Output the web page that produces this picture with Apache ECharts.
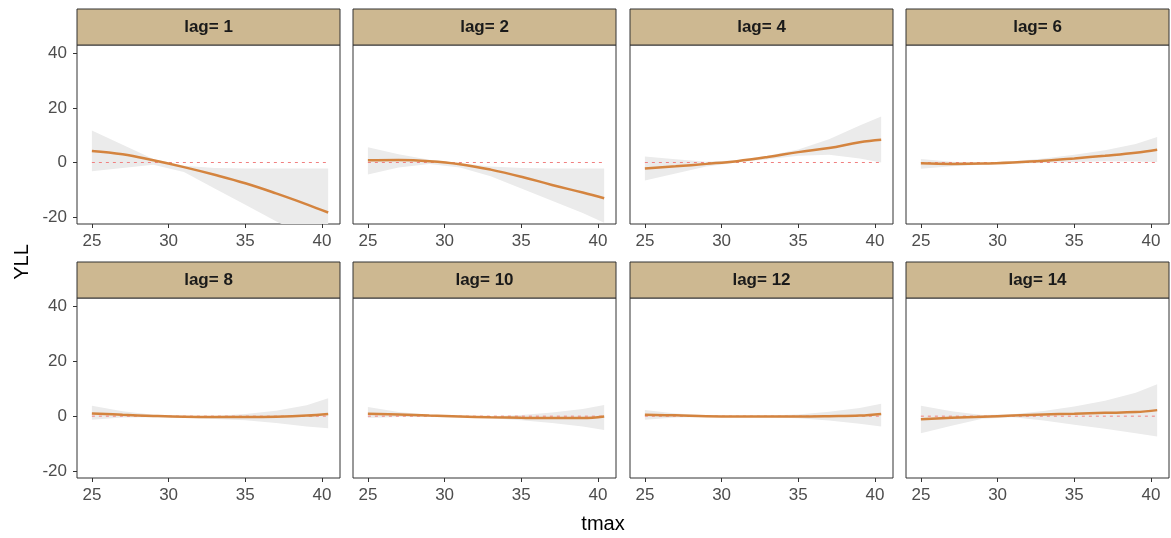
<!DOCTYPE html>
<html>
<head>
<meta charset="utf-8">
<title>YLL by tmax across lags</title>
<script src="https://cdn.jsdelivr.net/npm/echarts@6/dist/echarts.min.js"></script>
<style>
  html, body { margin: 0; padding: 0; background: #fff; }
  #chart { width: 1171px; height: 538px; }
</style>
</head>
<body>
<div id="chart"></div>
<script>
// Temperature grid shared by all panels
const tmax = [25, 27, 29, 31, 33, 35, 37, 39, 40.4];

// Panel titles
const lagLabels = ['lag= 1', 'lag= 2', 'lag= 4', 'lag= 6', 'lag= 8', 'lag= 10', 'lag= 12', 'lag= 14'];

// Fitted curves per lag
const fitLag1  = [4.2, 3.0, 0.8, -1.7, -4.5, -7.6, -11.3, -15.3, -18.3];
const fitLag2  = [0.8, 0.9, 0.5, -0.6, -2.6, -5.2, -8.2, -11.0, -13.1];
const fitLag4  = [-2.2, -1.4, -0.5, 0.5, 2.0, 3.8, 5.3, 7.4, 8.3];
const fitLag6  = [-0.3, -0.5, -0.4, 0.0, 0.6, 1.5, 2.5, 3.6, 4.7];
const fitLag8  = [1.0, 0.5, 0.1, -0.2, -0.3, -0.3, -0.2, 0.2, 0.8];
const fitLag10 = [0.9, 0.6, 0.2, -0.1, -0.4, -0.6, -0.7, -0.7, -0.1];
const fitLag12 = [0.5, 0.3, 0.0, -0.1, -0.1, -0.1, 0.0, 0.2, 0.8];
const fitLag14 = [-1.1, -0.6, -0.2, 0.2, 0.6, 0.9, 1.2, 1.5, 2.2];

// Upper confidence bounds
const upLag1  = [11.7, 6.5, 1.3, -1.2, -2.0, -2.2, -2.2, -2.2, -2.2];
const upLag2  = [5.6, 3.0, 1.0, -0.3, -1.5, -2.0, -2.2, -2.2, -2.2];
const upLag4  = [2.2, 1.2, 0.3, 0.8, 2.5, 4.8, 8.5, 13.5, 16.8];
const upLag6  = [1.3, 0.3, -0.1, 0.5, 1.5, 2.8, 4.5, 6.8, 9.3];
const upLag8  = [3.8, 1.8, 0.5, 0.1, 0.1, 0.8, 2.0, 4.0, 6.5];
const upLag10 = [3.3, 1.5, 0.5, 0.1, 0.0, 0.4, 1.3, 2.6, 4.1];
const upLag12 = [2.2, 1.0, 0.3, 0.1, 0.2, 0.6, 1.6, 3.0, 4.5];
const upLag14 = [3.8, 1.8, 0.4, 0.7, 1.9, 3.5, 5.6, 8.5, 11.6];

// Lower confidence bounds
const loLag1  = [-3.2, -2.0, -0.8, -3.5, -9.5, -15.5, -21.5, -27.0, -31.0];
const loLag2  = [-4.4, -1.8, -0.5, -1.8, -5.0, -9.5, -14.0, -18.5, -22.0];
const loLag4  = [-6.6, -4.0, -1.5, 0.0, 1.2, 2.5, 2.8, 1.5, 0.0];
const loLag6  = [-2.3, -1.4, -0.8, -0.4, -0.2, 0.2, 0.5, 0.4, 0.2];
const loLag8  = [-1.3, -0.5, -0.4, -0.6, -1.0, -1.5, -2.5, -3.8, -4.4];
const loLag10 = [-0.7, -0.3, -0.3, -0.5, -0.8, -1.5, -2.5, -3.8, -5.0];
const loLag12 = [-1.3, -0.5, -0.3, -0.3, -0.4, -0.8, -1.6, -2.8, -3.8];
const loLag14 = [-6.2, -3.5, -0.9, -0.4, -1.6, -3.1, -4.6, -6.2, -7.4];

// Zero reference line span
const refX = [25, 40.4];
const refY = [0, 0];

// Tick labels
const xTicks = [25, 30, 35, 40];
const yTicks = [-20, 0, 20, 40];

const fits   = [fitLag1, fitLag2, fitLag4, fitLag6, fitLag8, fitLag10, fitLag12, fitLag14];
const uppers = [upLag1, upLag2, upLag4, upLag6, upLag8, upLag10, upLag12, upLag14];
const lowers = [loLag1, loLag2, loLag4, loLag6, loLag8, loLag10, loLag12, loLag14];

// Facet layout
const colLeft = [77, 353, 630, 906];
const panelW = 263;
const stripTop = [9, 262];
const stripH = 36;
const plotH = [179, 180];

const FONT = "'Liberation Sans', Arial, sans-serif";
const grids = [], xAxes = [], yAxes = [], series = [], graphics = [];

// Ribbon polygon: upper bound left-to-right, then lower bound back, clipped to the panel
function ribbonRenderer(panel) {
  return function (params, api) {
    const pts = [];
    for (let k = 0; k < tmax.length; k++) pts.push(api.coord([tmax[k], uppers[panel][k]]));
    for (let k = tmax.length - 1; k >= 0; k--) pts.push(api.coord([tmax[k], lowers[panel][k]]));
    const cs = params.coordSys;
    return {
      type: 'group',
      clipPath: { type: 'rect', shape: { x: cs.x, y: cs.y, width: cs.width, height: cs.height } },
      children: [{
        type: 'polygon',
        shape: { points: pts },
        style: { fill: '#ebebeb', stroke: null }
      }]
    };
  };
}

for (let i = 0; i < 8; i++) {
  const row = Math.floor(i / 4), col = i % 4;
  const top = stripTop[row] + stripH;
  grids.push({
    left: colLeft[col], top: top, width: panelW, height: plotH[row],
    show: true, borderColor: '#333', borderWidth: 1, backgroundColor: '#fff', z: 0
  });
  xAxes.push({
    type: 'value', gridIndex: i, min: 24.03, max: 41.17,
    axisLine: { show: false, onZero: false },
    axisTick: { show: true, customValues: xTicks, length: 4, lineStyle: { color: '#333' } },
    axisLabel: { customValues: xTicks, color: '#4d4d4d', fontSize: 17, fontFamily: FONT, margin: 9 },
    splitLine: { show: false }
  });
  yAxes.push({
    type: 'value', gridIndex: i, min: -22.5, max: 43,
    axisLine: { show: false, onZero: false },
    axisTick: { show: col === 0, customValues: yTicks, length: 4, lineStyle: { color: '#333' } },
    axisLabel: { show: col === 0, customValues: yTicks, color: '#4d4d4d', fontSize: 17, fontFamily: FONT, margin: 10 },
    splitLine: { show: false }
  });

  // confidence ribbon
  series.push({
    type: 'custom', xAxisIndex: i, yAxisIndex: i,
    data: [[tmax[0], lowers[i][0]]],
    renderItem: ribbonRenderer(i), silent: true, z: 1
  });
  // dashed zero reference
  series.push({
    type: 'line', xAxisIndex: i, yAxisIndex: i,
    data: refX.map((x, k) => [x, refY[k]]),
    symbol: 'none', lineStyle: { color: '#f08080', width: 1, type: [3, 4] }, silent: true, z: 2
  });
  // fitted curve
  series.push({
    type: 'line', xAxisIndex: i, yAxisIndex: i,
    data: tmax.map((x, k) => [x, fits[i][k]]),
    symbol: 'none', smooth: 0.4, lineStyle: { color: '#d4843f', width: 2.5 }, silent: true, z: 3
  });

  // facet strip
  graphics.push({
    type: 'rect',
    shape: { x: colLeft[col], y: stripTop[row], width: panelW, height: stripH },
    style: { fill: '#cdb891', stroke: '#333', lineWidth: 1 },
    z: 10
  });
  graphics.push({
    type: 'text',
    x: colLeft[col] + panelW / 2, y: stripTop[row] + stripH / 2,
    style: {
      text: lagLabels[i], fill: '#1a1a1a', font: 'bold 17px ' + FONT,
      textAlign: 'center', textVerticalAlign: 'middle'
    },
    z: 11
  });
}

// axis titles
graphics.push({
  type: 'text', x: 603, y: 524,
  style: { text: 'tmax', fill: '#000', font: '20px ' + FONT, textAlign: 'center', textVerticalAlign: 'middle' },
  z: 11
});
graphics.push({
  type: 'text', x: 22, y: 262, rotation: Math.PI / 2,
  style: { text: 'YLL', fill: '#000', font: '20px ' + FONT, textAlign: 'center', textVerticalAlign: 'middle' },
  z: 11
});

const chart = echarts.init(document.getElementById('chart'), null, { renderer: 'canvas' });
chart.setOption({
  animation: false,
  backgroundColor: '#fff',
  grid: grids,
  xAxis: xAxes,
  yAxis: yAxes,
  series: series,
  graphic: graphics
});
</script>
</body>
</html>
